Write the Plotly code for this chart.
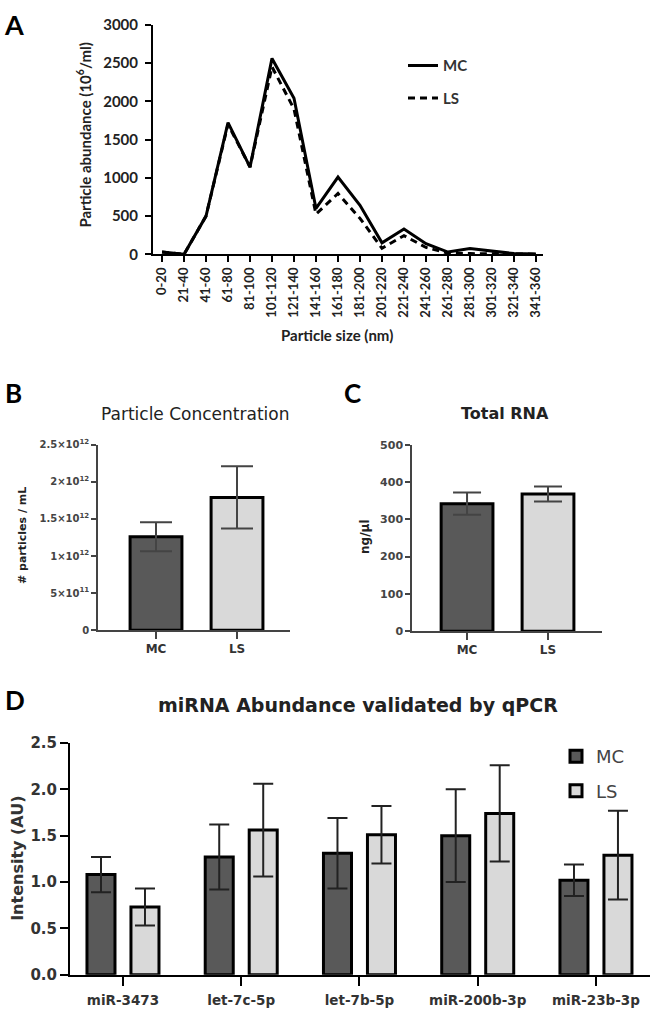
import plotly.graph_objects as go

# ---------------- data ----------------
size_bins = ["0-20", "21-40", "41-60", "61-80", "81-100", "101-120", "121-140",
             "141-160", "161-180", "181-200", "201-220", "221-240", "241-260",
             "261-280", "281-300", "301-320", "321-340", "341-360"]
mc_abundance = [30, 0, 500, 1720, 1140, 2560, 2040, 600, 1010, 640, 150, 330,
                140, 30, 75, 40, 10, 5]
ls_abundance = [30, 0, 500, 1700, 1140, 2450, 1900, 525, 795, 470, 80, 245,
                90, 15, 10, 5, 3, 2]

groups = ["MC", "LS"]
conc_mean = [1.26e12, 1.79e12]
conc_err = [0.195e12, 0.42e12]
conc_ticks = [0, 5e11, 1e12, 1.5e12, 2e12, 2.5e12]
conc_ticktext = ["0", "5×10<sup>11</sup>", "1×10<sup>12</sup>", "1.5×10<sup>12</sup>",
                 "2×10<sup>12</sup>", "2.5×10<sup>12</sup>"]

rna_mean = [342, 368]
rna_err = [30, 20]

mirnas = ["miR-3473", "let-7c-5p", "let-7b-5p", "miR-200b-3p", "miR-23b-3p"]
mc_intensity = [1.08, 1.27, 1.31, 1.50, 1.02]
mc_int_err = [0.19, 0.35, 0.38, 0.50, 0.17]
ls_intensity = [0.73, 1.56, 1.51, 1.74, 1.29]
ls_int_err = [0.20, 0.50, 0.31, 0.52, 0.48]

# ---------------- style ----------------
W, H = 652, 1017
MC_FILL = "#595959"
LS_FILL = "#d9d9d9"
DV = "DejaVu Sans"
LATO = "Lato"


def px_x(p):
    return p / W


def px_y(p):
    return 1 - p / H


fig = go.Figure()

# Panel A: lines
fig.add_trace(go.Scatter(x=size_bins, y=mc_abundance, mode="lines", name="MC",
                         line=dict(color="black", width=3), xaxis="x", yaxis="y",
                         legend="legend", legendgroup="a_mc"))
fig.add_trace(go.Scatter(x=size_bins, y=ls_abundance, mode="lines", name="LS",
                         line=dict(color="black", width=3, dash="7px,5px"),
                         xaxis="x", yaxis="y", legend="legend", legendgroup="a_ls"))

# Panel B
fig.add_trace(go.Bar(x=groups, y=conc_mean, width=0.64,
                     marker=dict(color=[MC_FILL, LS_FILL], line=dict(color="black", width=3)),
                     error_y=dict(type="data", array=conc_err, color="#444", thickness=2, width=16),
                     xaxis="x2", yaxis="y2", showlegend=False))

# Panel C
fig.add_trace(go.Bar(x=groups, y=rna_mean, width=0.64,
                     marker=dict(color=[MC_FILL, LS_FILL], line=dict(color="black", width=3)),
                     error_y=dict(type="data", array=rna_err, color="#444", thickness=2, width=14),
                     xaxis="x3", yaxis="y3", showlegend=False))

# Panel D
fig.add_trace(go.Bar(x=mirnas, y=mc_intensity, name="MC", width=0.237, offset=-0.3045,
                     marker=dict(color=MC_FILL, line=dict(color="black", width=3)),
                     error_y=dict(type="data", array=mc_int_err, color="#222", thickness=2, width=10),
                     xaxis="x4", yaxis="y4", legend="legend2", legendgroup="d_mc"))
fig.add_trace(go.Bar(x=mirnas, y=ls_intensity, name="LS", width=0.237, offset=0.0675,
                     marker=dict(color=LS_FILL, line=dict(color="black", width=3)),
                     error_y=dict(type="data", array=ls_int_err, color="#222", thickness=2, width=10),
                     xaxis="x4", yaxis="y4", legend="legend2", legendgroup="d_ls"))

axis_common = dict(showgrid=False, zeroline=False, showline=True, ticks="outside", fixedrange=True)

layout = dict(
    width=W, height=H, margin=dict(l=0, r=0, t=0, b=0),
    paper_bgcolor="white", plot_bgcolor="white", barmode="overlay",
    # Panel A
    xaxis=dict(axis_common, domain=[px_x(153), px_x(543)], anchor="y", range=[-0.41, 17.32],
               linecolor="black", linewidth=2, tickcolor="black", tickwidth=2, ticklen=6,
               tickangle=-90, tickfont=dict(family=LATO, size=13, color="#222", weight="bold")),
    yaxis=dict(axis_common, domain=[px_y(249), px_y(15)], anchor="x", range=[0, 3000],
               tickvals=[0, 500, 1000, 1500, 2000, 2500, 3000],
               linecolor="black", linewidth=2, tickcolor="black", tickwidth=2, ticklen=6,
               ticklabelstandoff=4, tickfont=dict(family=LATO, size=15, color="#222", weight="bold")),
    # Panel B
    xaxis2=dict(axis_common, domain=[px_x(98), px_x(290)], anchor="y2", range=[-0.716, 1.654],
                linecolor="#444", linewidth=1.5, tickcolor="#444", tickwidth=1.5, ticklen=7,
                tickfont=dict(family=DV, size=12, color="#333", weight="bold")),
    yaxis2=dict(axis_common, domain=[px_y(632), px_y(443)], anchor="x2", range=[0, 2.5e12],
                tickvals=conc_ticks, ticktext=conc_ticktext,
                linecolor="#444", linewidth=1.5, tickcolor="#444", tickwidth=1.5, ticklen=5,
                tickfont=dict(family=DV, size=10, color="#444", weight="bold")),
    # Panel C
    xaxis3=dict(axis_common, domain=[px_x(412), px_x(602)], anchor="y3", range=[-0.68, 1.667],
                linecolor="#444", linewidth=1.5, tickcolor="#444", tickwidth=1.5, ticklen=7,
                tickfont=dict(family=DV, size=12, color="#333", weight="bold")),
    yaxis3=dict(axis_common, domain=[px_y(633), px_y(443)], anchor="x3", range=[0, 500],
                tickvals=[0, 100, 200, 300, 400, 500],
                linecolor="#444", linewidth=1.5, tickcolor="#444", tickwidth=1.5, ticklen=5,
                tickfont=dict(family=DV, size=11, color="#444", weight="bold")),
    # Panel D
    xaxis4=dict(axis_common, domain=[px_x(70), px_x(650)], anchor="y4", range=[-0.448, 4.457],
                linecolor="black", linewidth=2, tickcolor="black", tickwidth=2, ticklen=9,
                ticklabelstandoff=3,
                tickfont=dict(family=DV, size=13.5, color="#333", weight="bold")),
    yaxis4=dict(axis_common, domain=[px_y(983), px_y(747)], anchor="x4", range=[0, 2.5],
                tickvals=[0, 0.5, 1.0, 1.5, 2.0, 2.5], tickformat=".1f",
                linecolor="black", linewidth=2, tickcolor="black", tickwidth=2, ticklen=8,
                tickfont=dict(family=DV, size=15, color="#333", weight="bold")),
    legend=dict(x=px_x(403), y=px_y(40), xanchor="left", yanchor="top",
                bgcolor="rgba(0,0,0,0)", tracegroupgap=10,
                font=dict(family=LATO, size=15, color="#333", weight="bold")),
    legend2=dict(x=px_x(556), y=px_y(742), xanchor="left", yanchor="top",
                 bgcolor="rgba(0,0,0,0)", tracegroupgap=8,
                 font=dict(family=DV, size=18, color="#444")),
)
fig.update_layout(**layout)

annotations = [
    # panel letters
    dict(text="A", x=px_x(14), y=px_y(15), font=dict(family=LATO, size=27, color="black", weight="bold")),
    dict(text="B", x=px_x(13), y=px_y(390), font=dict(family=LATO, size=26, color="black", weight="bold")),
    dict(text="C", x=px_x(352), y=px_y(390), font=dict(family=LATO, size=26, color="black", weight="bold")),
    dict(text="D", x=px_x(15), y=px_y(703), font=dict(family=LATO, size=26, color="black", weight="bold")),
    # axis titles panel A
    dict(text="Particle abundance (10<sup>6</sup>/ml)", x=px_x(84), y=px_y(128), textangle=-90,
         font=dict(family=LATO, size=15, color="#222", weight="bold")),
    dict(text="Particle size (nm)", x=px_x(337), y=px_y(331),
         font=dict(family=LATO, size=15, color="#222", weight="bold")),
    # panel B
    dict(text="Particle Concentration", x=px_x(195), y=px_y(412),
         font=dict(family=DV, size=17, color="#222")),
    dict(text="# particles / mL", x=px_x(23), y=px_y(536), textangle=-90,
         font=dict(family=DV, size=11, color="#222", weight="bold")),
    # panel C
    dict(text="Total RNA", x=px_x(505), y=px_y(411),
         font=dict(family=DV, size=16, color="#222", weight="bold")),
    dict(text="ng/µl", x=px_x(365), y=px_y(537), textangle=-90,
         font=dict(family=DV, size=12, color="#222", weight="bold")),
    # panel D
    dict(text="miRNA Abundance validated by qPCR", x=px_x(358), y=px_y(708),
         font=dict(family=DV, size=19, color="#222", weight="bold")),
    dict(text="Intensity (AU)", x=px_x(18), y=px_y(865), textangle=-90,
         font=dict(family=DV, size=16, color="#333", weight="bold")),
]
for a in annotations:
    a.update(xref="paper", yref="paper", showarrow=False, xanchor="center", yanchor="middle")
fig.update_layout(annotations=annotations)

fig.write_html("out.html", config={"displayModeBar": False},
               post_script="document.body.style.margin='0';document.body.style.padding='0';")
